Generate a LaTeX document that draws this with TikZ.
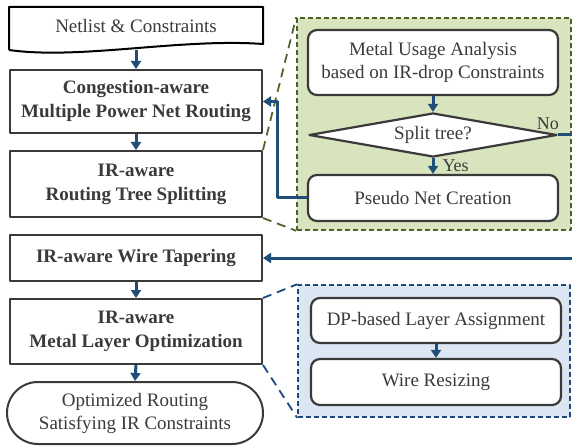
\documentclass[tikz,border=0pt]{standalone}
\usepackage{fontspec}
\setmainfont{Liberation Serif}
\usepackage{tikz}
\usetikzlibrary{arrows.meta,shapes,positioning}
\definecolor{boxline}{HTML}{3A3A3A}
\definecolor{flowblue}{HTML}{1F4E79}
\definecolor{greenfill}{HTML}{D7E4BD}
\definecolor{greenline}{HTML}{4F6228}
\definecolor{bluefill}{HTML}{DCE6F2}
\definecolor{blueline}{HTML}{1F497D}
\tikzset{
  every picture/.style={line join=round, >={Triangle[length=8pt,width=10pt]}},
  stagebox/.style={draw=boxline, line width=2pt, fill=white, text=boxline, align=center,
    font=\fontsize{19}{24}\selectfont\bfseries, minimum width=252pt, inner sep=0pt},
  subbox/.style={draw=boxline, line width=2.2pt, fill=white, rounded corners=9pt, text=boxline,
    align=center, font=\fontsize{19}{23}\selectfont, minimum width=250pt, inner sep=0pt},
  zoomgreen/.style={draw=greenline, fill=greenfill, line width=1.6pt, dash pattern=on 5pt off 3pt, inner sep=0pt},
  zoomblue/.style={draw=blueline, fill=bluefill, line width=1.6pt, dash pattern=on 5pt off 3pt, inner sep=0pt},
  zoomline/.style={line width=1.8pt, dash pattern=on 9pt off 6pt},
  flow/.style={->, draw=flowblue, line width=3pt},
  flowline/.style={draw=flowblue, line width=3pt},
  tag/.style={text=boxline, font=\fontsize{18}{20}\selectfont, inner sep=0pt},
}

\begin{document}
\begin{tikzpicture}[x=1pt,y=-1pt]
\useasboundingbox (0,0) rectangle (572,446);
\node[zoomgreen, minimum width=274pt, minimum height=212pt] (splitzone) at (434,124) {};
\node[zoomblue, minimum width=272pt, minimum height=132pt] (layerzone) at (434,351) {};
\node[stagebox, draw=none, fill=none, font=\fontsize{19}{23}\selectfont, minimum height=36pt] (netlist) at (136,26) {Netlist \& Constraints};
\draw[draw=black, line width=2pt] ([yshift=-5pt]netlist.south west) -- (netlist.north west) -- (netlist.north east) -- ([yshift=1pt]netlist.south east)
  .. controls (180,38) and (80,60) .. ([yshift=-5pt]netlist.south west);
\node[stagebox, minimum height=63pt] (cong) at (136,101.5) {Congestion-aware\\Multiple Power Net Routing};
\node[stagebox, minimum height=66pt] (rts) at (136,184) {IR-aware\\Routing Tree Splitting};
\node[stagebox, minimum height=46pt] (taper) at (136,258) {IR-aware Wire Tapering};
\node[stagebox, minimum height=65pt] (mlo) at (136,331.5) {IR-aware\\Metal Layer Optimization};
\node[stagebox, font=\fontsize{19}{23}\selectfont, rounded corners=31pt, minimum width=256pt, minimum height=62pt] (result) at (135,413) {Optimized Routing\\Satisfying IR Constraints};
\node[subbox, minimum height=65pt] (usage) at (433,62.5) {Metal Usage Analysis\\based on IR-drop Constraints};
\node[subbox, shape=diamond, rounded corners=0pt, aspect=5.6, minimum width=248pt, minimum height=44pt] (split) at (433,135) {Split tree?};
\node[subbox, minimum height=46pt] (pseudo) at (433,198) {Pseudo Net Creation};
\node[subbox, minimum height=45pt] (dpla) at (436,320.5) {DP-based Layer Assignment};
\node[subbox, minimum height=46pt] (resize) at (436,382) {Wire Resizing};
\coordinate (noend) at (576,135);
\coordinate (tapin) at (576,258);
\draw[zoomline, draw=greenline] (rts.north east) -- (splitzone.north west) (rts.south east) -- (splitzone.south west);
\draw[zoomline, draw=blueline] (mlo.north east) -- (layerzone.north west) (mlo.south east) -- (layerzone.south west);
\draw[flow] ([yshift=-5pt]netlist.south) -- (cong.north);
\draw[flow] (cong.south) -- (rts.north);
\draw[flow] (taper.south) -- (mlo.north);
\draw[flow] (mlo.south) -- (result.north);
\draw[flow] (usage.south) -- (split.north);
\draw[flow] (split.south) -- node[tag, right=8pt]{Yes} (pseudo.north);
\draw[flow] (pseudo.west) -- ++(-29,0) |- (cong.east);
\draw[flowline] (split.east) -- (noend);
\node[tag, anchor=base east] at ([xshift=1pt,yshift=5pt]split.east) {No};
\draw[flow] (tapin) -- (taper.east);
\draw[flow] (dpla.south) -- (resize.north);
\end{tikzpicture}
\end{document}
